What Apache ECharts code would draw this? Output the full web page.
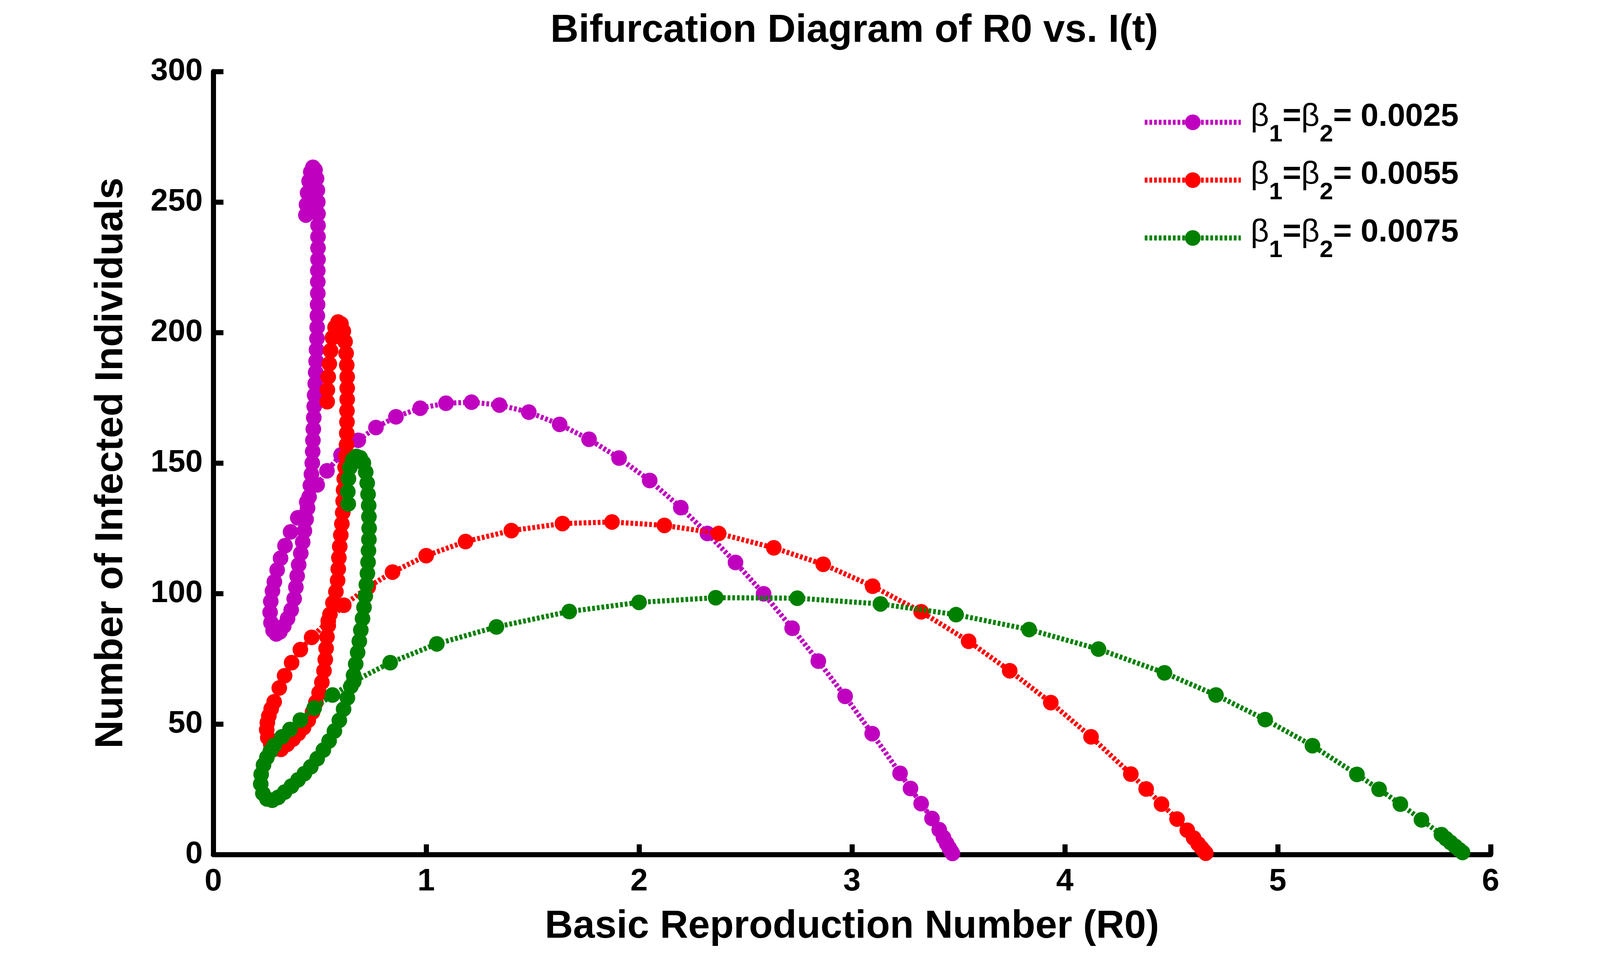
<!DOCTYPE html>
<html>
<head>
<meta charset="utf-8">
<script src="https://cdn.jsdelivr.net/npm/echarts/dist/echarts.min.js"></script>
<style>
html,body{margin:0;padding:0;background:#ffffff;}
#chart{width:4216px;height:2457px;}
</style>
</head>
<body>
<div id="chart"></div>
<script>
// ---- data: [R0, I] ----
const seriesNames = ['β1=β2= 0.0025', 'β1=β2= 0.0055', 'β1=β2= 0.0075'];
const betaValues = ['0.0025', '0.0055', '0.0075'];
const seriesColors = ['#BF00BF', '#FF0000', '#008000'];

const curveBeta0025 = [
  [0.435,245],[0.438,249],[0.443,253.5],[0.450,258],[0.458,261.5],[0.468,263.3],[0.478,262.3],[0.485,259],[0.489,254.5],[0.491,250],[0.492,245.5],[0.492,241],
  [0.492,236.7],[0.492,232.4],[0.492,228],[0.491,223.7],[0.491,219.4],[0.491,215],[0.490,210.7],[0.489,206.4],[0.488,202],[0.487,197.7],[0.485,193.4],[0.483,189],[0.481,184.7],[0.479,180.4],[0.476,176],[0.474,171.7],[0.472,167.4],[0.470,163],[0.468,158.7],[0.467,154.4],[0.465,150],[0.461,145.7],[0.456,141.4],[0.450,137],[0.443,132.7],[0.436,128.4],[0.428,124],[0.420,119.7],[0.411,115.4],[0.401,111],[0.394,106.7],[0.388,102.4],[0.380,98],[0.366,93.7],[0.349,90.4],[0.331,87.5],[0.313,85.3],[0.296,84.5],[0.281,85.8],[0.271,88.8],[0.267,92.8],[0.270,97],[0.278,101],[0.287,104.5],[0.300,109],[0.316,113.5],[0.337,118.3],[0.363,123.6],[0.397,129],[0.439,135],[0.488,141.6],[0.534,147],[0.600,153.1],[0.681,158.7],[0.764,163.6],[0.858,167.7],[0.972,171],[1.093,172.9],[1.213,173.3],[1.344,172.2],[1.482,169.5],[1.627,164.8],[1.765,159.1],[1.906,151.9],[2.050,143.3],[2.196,132.9],[2.321,123],[2.453,111.9],[2.585,99.9],[2.719,86.7],[2.842,74.1],[2.968,60.6],[3.095,46.3],[3.226,31.1],[3.275,25.3],[3.325,19.5],[3.376,13.8],[3.410,9.5],[3.430,6.5],[3.445,4.2],[3.457,2.5],[3.466,1.2],[3.472,0.4]
];

const curveBeta0055 = [
  [0.535,173.5],[0.536,178],[0.540,183],[0.545,188],[0.551,193],[0.560,198],[0.572,202],[0.586,204],[0.600,203.3],[0.611,200.5],[0.619,196.5],[0.624,192],[0.627,187.5],[0.629,183],
  [0.629,178.7],[0.629,174.4],[0.628,170],[0.628,165.7],[0.627,161.4],[0.626,157],[0.623,152.7],[0.619,148.4],[0.615,144],[0.612,139.7],[0.610,135.4],[0.608,131],[0.604,126.7],[0.599,122.4],[0.594,118],[0.590,113.7],[0.587,109.4],[0.584,105],[0.576,100.7],[0.562,96.4],[0.548,92],[0.540,87.7],[0.534,83.4],[0.530,79],[0.526,74.7],[0.520,70.4],[0.510,66],[0.497,62],[0.482,58.3],[0.466,54.5],[0.446,51.4],[0.424,48.6],[0.400,46.4],[0.374,44.2],[0.347,42.2],[0.318,40.3],[0.292,40.5],[0.270,42.2],[0.256,44.8],[0.251,47.8],[0.254,50.5],[0.261,53.1],[0.272,55.8],[0.286,58.5],[0.310,63.8],[0.335,68.5],[0.368,73.5],[0.409,78.5],[0.462,83.2],[0.540,89.5],[0.613,95.5],[0.728,102.5],[0.842,108.2],[1.000,114.5],[1.185,119.9],[1.400,124.1],[1.640,126.8],[1.873,127.4],[2.119,126.1],[2.374,123],[2.633,117.5],[2.865,111.2],[3.097,102.8],[3.325,93],[3.548,81.7],[3.741,70.4],[3.934,58.2],[4.123,45.1],[4.310,30.8],[4.382,25.1],[4.454,19.3],[4.527,13.6],[4.575,9.3],[4.605,6.3],[4.626,4.1],[4.642,2.5],[4.654,1.3],[4.662,0.5]
];

const curveBeta0075 = [
  [0.634,134.3],[0.632,139],[0.635,144],[0.642,148.3],[0.655,151.2],[0.672,152.5],[0.690,152],[0.705,150],[0.716,146.5],[0.723,142.3],[0.727,138],[0.730,133.7],[0.731,129.4],[0.732,125],[0.731,120.7],[0.729,116.4],[0.727,112],[0.724,107.7],[0.719,103.4],[0.714,99],[0.708,94.7],[0.701,90.4],[0.693,86],[0.686,81.7],[0.678,77.4],[0.669,73],[0.659,68.7],[0.646,64.4],[0.630,60],[0.612,55.7],[0.592,51.4],[0.569,47.3],[0.544,43.5],[0.517,40],[0.488,36.7],[0.458,33.6],[0.428,31],[0.398,28.6],[0.367,26.2],[0.335,23.9],[0.305,21.9],[0.277,20.8],[0.252,21.3],[0.233,23.4],[0.223,27],[0.225,30.7],[0.236,34.3],[0.252,37.2],[0.268,39.6],[0.286,41.8],[0.323,45.1],[0.360,47.9],[0.409,51.5],[0.474,56.1],[0.560,61.1],[0.660,66.3],[0.831,73.5],[1.050,80.7],[1.330,87.2],[1.672,93.1],[2.000,96.6],[2.360,98.4],[2.743,98.2],[3.134,96],[3.489,91.9],[3.832,86.2],[4.158,78.7],[4.468,69.6],[4.710,61.1],[4.941,51.7],[5.163,41.7],[5.372,30.7],[5.476,25],[5.576,19.3],[5.675,13.3],[5.769,7.6],[5.790,6.1],[5.812,4.6],[5.834,3.1],[5.853,1.8],[5.868,0.8]
];

const curves = [curveBeta0025, curveBeta0055, curveBeta0075];

const xTicks = [0, 1, 2, 3, 4, 5, 6];
const yTicks = [0, 50, 100, 150, 200, 250, 300];

// ---- chart ----
const FONT = '"Liberation Sans", Arial, Helvetica, sans-serif';
const chart = echarts.init(document.getElementById('chart'), null, {renderer: 'canvas'});

const series = curves.map((c, i) => ({
  name: seriesNames[i],
  type: 'line',
  data: c,
  symbol: 'circle',
  symbolSize: 40,
  showSymbol: true,
  clip: false,
  smooth: false,
  itemStyle: {color: seriesColors[i], borderWidth: 0},
  lineStyle: {color: seriesColors[i], width: 13, type: [7, 5]},
  emphasis: {disabled: true},
  z: 2 + i
}));

chart.setOption({
  animation: false,
  backgroundColor: '#ffffff',
  title: {
    text: 'Bifurcation Diagram of R0 vs. I(t)',
    left: 2187,
    top: 29,
    padding: 0,
    textAlign: 'center',
    textStyle: {fontFamily: FONT, fontSize: 100, fontWeight: 'bold', color: '#000'}
  },
  legend: {
    data: seriesNames,
    orient: 'vertical',
    left: 2924,
    top: 250,
    padding: 0,
    itemGap: 22,
    itemWidth: 246,
    itemHeight: 50,
    selectedMode: false,
    lineStyle: {width: 13, type: [7, 5]},
    formatter: function (name) {
      const i = seriesNames.indexOf(name);
      return '{b0|β}{s|1}{m|=}{b|β}{s|2}{m|= ' + betaValues[i] + '}';
    },
    textStyle: {
      fontFamily: FONT, color: '#000',
      rich: {
        b0: {fontFamily: FONT, fontSize: 82, fontWeight: 'normal', lineHeight: 82, padding: [0, 0, 28, 20], verticalAlign: 'middle', color: '#000'},
        b: {fontFamily: FONT, fontSize: 82, fontWeight: 'normal', lineHeight: 82, padding: [0, 0, 28, 0], verticalAlign: 'middle', color: '#000'},
        m: {fontFamily: FONT, fontSize: 82, fontWeight: 'bold', lineHeight: 82, padding: [0, 0, 28, 0], verticalAlign: 'middle', color: '#000'},
        s: {fontFamily: FONT, fontSize: 62, fontWeight: 'bold', lineHeight: 62, padding: [64, 0, 0, 0], verticalAlign: 'middle', color: '#000'}
      }
    }
  },
  grid: {
    left: 546, right: 400, top: 183, bottom: 270,
    containLabel: false,
    outerBoundsMode: 'none'
  },
  xAxis: {
    type: 'value',
    min: xTicks[0], max: xTicks[xTicks.length - 1], interval: 1,
    name: 'Basic Reproduction Number (R0)',
    nameLocation: 'middle',
    nameGap: 135,
    nameTextStyle: {fontFamily: FONT, fontSize: 100, fontWeight: 'bold', color: '#000'},
    axisLine: {show: true, onZero: false, lineStyle: {color: '#000', width: 13}},
    axisTick: {show: true, inside: true, length: 26, lineStyle: {color: '#000', width: 13}},
    axisLabel: {fontFamily: FONT, fontSize: 80, fontWeight: 'bold', color: '#000', margin: 30, hideOverlap: false},
    splitLine: {show: false}
  },
  yAxis: {
    type: 'value',
    min: yTicks[0], max: yTicks[yTicks.length - 1], interval: 50,
    name: 'Number of Infected Individuals',
    nameLocation: 'middle',
    nameGap: 211,
    nameTextStyle: {fontFamily: FONT, fontSize: 100, fontWeight: 'bold', color: '#000'},
    axisLine: {show: true, onZero: false, lineStyle: {color: '#000', width: 13}},
    axisTick: {show: true, inside: true, length: 26, lineStyle: {color: '#000', width: 13}},
    axisLabel: {fontFamily: FONT, fontSize: 80, fontWeight: 'bold', color: '#000', margin: 27, hideOverlap: false},
    splitLine: {show: false}
  },
  series: series
});
</script>
</body>
</html>
